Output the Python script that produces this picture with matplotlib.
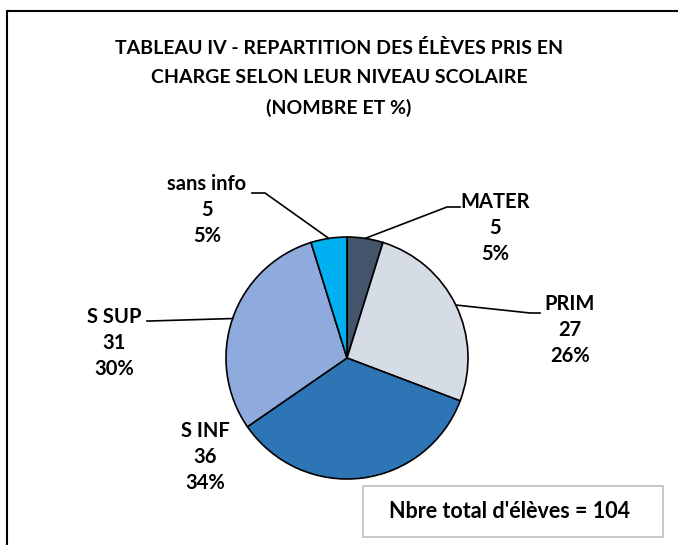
import numpy as np
import matplotlib
matplotlib.use('Agg')
import matplotlib.pyplot as plt
from matplotlib.patches import Rectangle
from matplotlib.lines import Line2D

plt.rcParams['font.family'] = ['Lato', 'DejaVu Sans']

# data
categories = ['MATER', 'PRIM', 'S INF', 'S SUP', 'sans info']
counts = [5, 27, 36, 31, 5]
pct_labels = ['5%', '26%', '34%', '30%', '5%']
total = 104
colors = ['#44546A', '#D6DCE5', '#2E75B6', '#8FAADC', '#00B0F0']

W, H = 678, 545
fig = plt.figure(figsize=(W/100, H/100), dpi=100)

def px(x, y):
    return (x/W, 1 - y/H)

# pie placement (pixels)
cx, cy, R = 347, 358, 121
ax = fig.add_axes([(cx-R)/W, (H-cy-R)/H, 2*R/W, 2*R/H])
wedges, _ = ax.pie(counts, colors=colors, startangle=90, counterclock=False,
                   wedgeprops=dict(edgecolor='black', linewidth=1.2))
ax.set_xlim(-1, 1)
ax.set_ylim(-1, 1)
ax.set_aspect('equal')

# label layout: text center, elbow points
lab_pos = [(495, 228), (570, 330), (205, 457), (114, 343), (207, 210)]
elbows = [[(447, 207), (460, 207)],
          [(530, 313), (540, 313)],
          None,
          [(150, 321), (147, 321)],
          [(265, 193), (252, 193)]]

for w, name, n, p, pos, elb in zip(wedges, categories, counts, pct_labels, lab_pos, elbows):
    fig.text(*px(*pos), '%s\n%d\n%s' % (name, n, p), ha='center', va='center',
             fontsize=14.5, fontweight='bold', linespacing=1.36)
    if elb is None:
        continue
    ang = np.deg2rad((w.theta1 + w.theta2) / 2)
    x0, y0 = cx + R*np.cos(ang), cy - R*np.sin(ang)
    xs = [x0] + [e[0] for e in elb]
    ys = [y0] + [e[1] for e in elb]
    fig.add_artist(Line2D([x/W for x in xs], [1 - y/H for y in ys], color='black',
                          linewidth=1.2, transform=fig.transFigure))

fig.text(*px(339, 78), 'TABLEAU IV - REPARTITION DES ÉLÈVES PRIS EN\nCHARGE SELON LEUR NIVEAU SCOLAIRE\n(NOMBRE ET %)',
         ha='center', va='center', fontsize=14, fontweight='bold', linespacing=1.85)

# total box
fig.add_artist(Rectangle(px(363, 537), 300/W, 51/H, transform=fig.transFigure,
                         facecolor='white', edgecolor='#BFBFBF', linewidth=1.2))
fig.text(*px(510, 512), "Nbre total d'élèves = %d" % total, ha='center', va='center',
         fontsize=15.5, fontweight='bold')

# outer frame
fig.add_artist(Rectangle(px(7, 560), 700/W, 549/H, transform=fig.transFigure,
                         facecolor='none', edgecolor='black', linewidth=1.5, clip_on=False))

fig.savefig('out.png', dpi=100)
